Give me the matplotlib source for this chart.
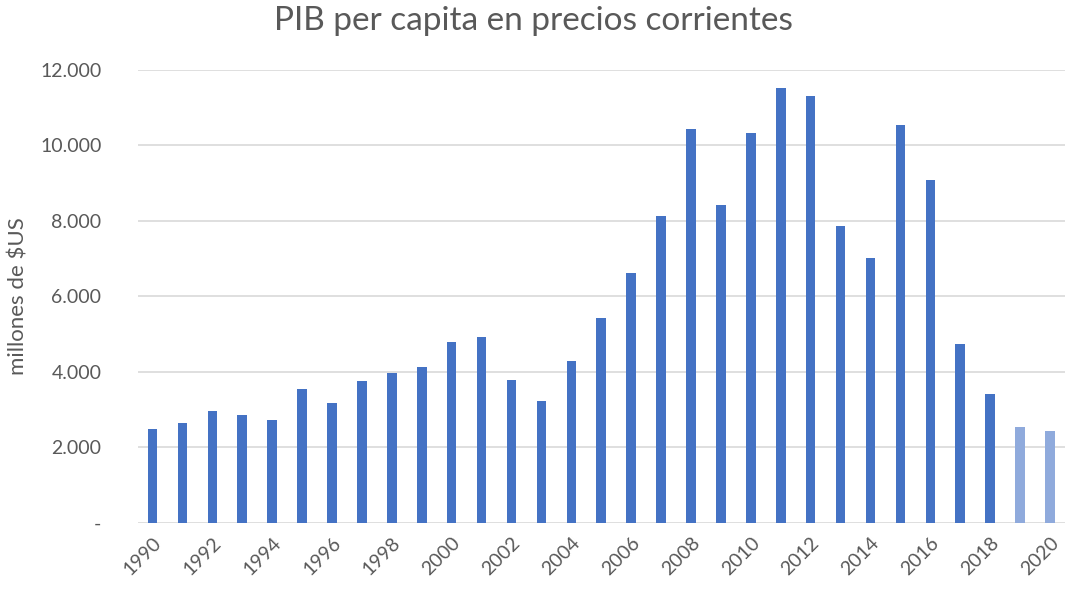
import matplotlib.pyplot as plt
import matplotlib.ticker as mticker

plt.rcParams['font.family'] = ['Lato', 'DejaVu Sans']

years = list(range(1990, 2021))
pib = [2490, 2650, 2970, 2860, 2730, 3550, 3180, 3760, 3970, 4130,
       4790, 4930, 3790, 3230, 4290, 5430, 6620, 8130, 10440, 8420,
       10330, 11520, 11310, 7870, 7020, 10540, 9090, 4740, 3420, 2540,
       2440]
estimated = [2019, 2020]

colors = ['#8FAADC' if y in estimated else '#4472C4' for y in years]

fig = plt.figure(figsize=(10.66, 5.92), dpi=100)
ax = fig.add_axes([0.129, 0.117, 0.870, 0.765])

pos = list(range(len(years)))
ax.bar(pos, pib, width=0.32, color=colors, zorder=3)

ax.set_xlim(-0.5, len(years) - 0.5)
ax.set_ylim(0, 12000)
ax.set_yticks(range(0, 12001, 2000))


def fmt(v, p):
    if v == 0:
        return '-'
    return f'{int(v):,}'.replace(',', '.')


ax.yaxis.set_major_formatter(mticker.FuncFormatter(fmt))
ax.set_xticks(pos[::2])
ax.set_xticklabels([str(y) for y in years[::2]], rotation=45, ha='right',
                   rotation_mode='anchor')
ax.tick_params(axis='both', length=0, labelsize=14, colors='#595959')
ax.tick_params(axis='x', pad=8)
ax.tick_params(axis='y', pad=26)

ax.grid(axis='y', color='#D9D9D9', linewidth=1.2, zorder=0)
for s in ax.spines.values():
    s.set_visible(False)

ax.set_ylabel('millones de $US', fontsize=16, color='#595959', labelpad=8)
fig.text(0.5, 0.965, 'PIB per capita en precios corrientes', ha='center',
         va='center', fontsize=24, color='#595959')

fig.savefig('out.png', dpi=100)
